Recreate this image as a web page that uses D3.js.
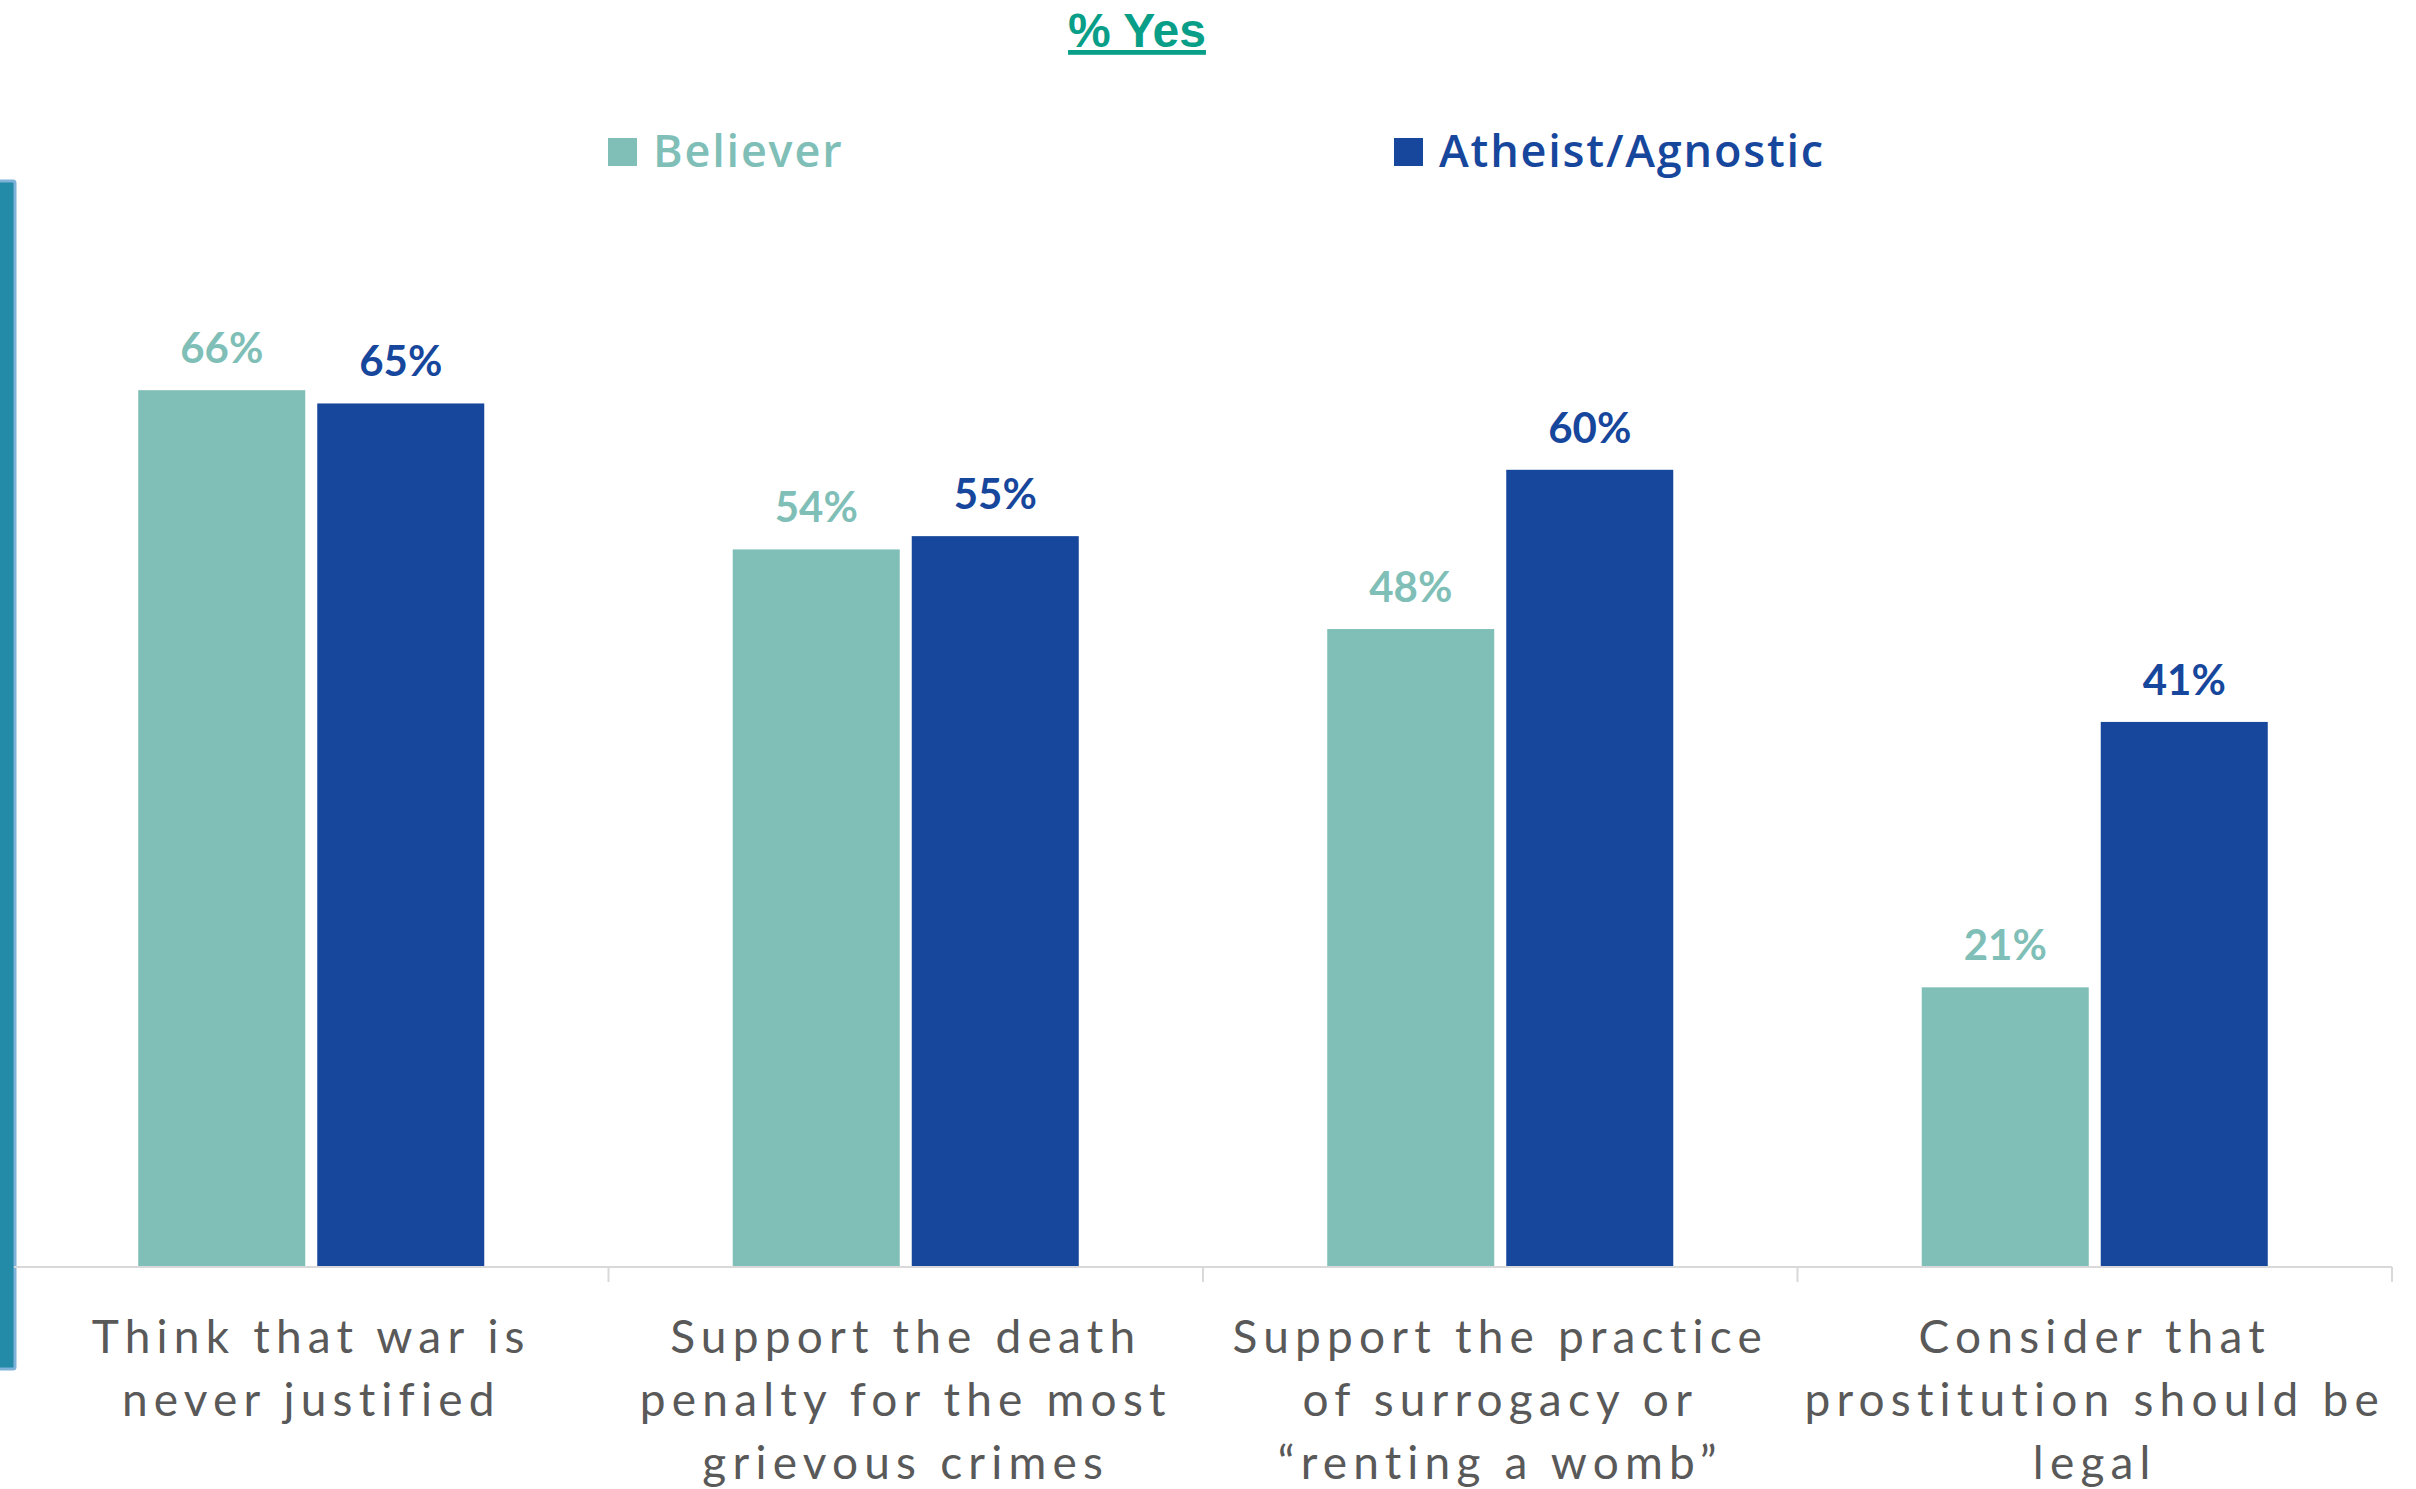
<!DOCTYPE html>
<html>
<head>
<meta charset="utf-8">
<script src="https://cdn.jsdelivr.net/npm/d3@7"></script>
<style>
body{margin:0;background:#fff}
svg{display:block}
.cat{font-family:Lato,"Noto Sans",sans-serif;font-size:46px;fill:#595959;letter-spacing:6.2px}
.val{font-family:Lato,sans-serif;font-weight:700;font-size:42px}
.leg{font-family:"Open Sans",sans-serif;font-weight:600;font-size:45px;letter-spacing:1.8px}
</style>
</head>
<body>
<div id="chart"></div>
<script>
var categories = [
	["Think that war is","never justified"],
	["Support the death","penalty for the most","grievous crimes"],
	["Support the practice","of surrogacy or","\u201crenting a womb\u201d"],
	["Consider that","prostitution should be","legal"]
]
var series = ["Believer","Atheist/Agnostic"]
var believer = [66,54,48,21]
var atheist = [65,55,60,41]

var colors = {
	"Believer":"#80bfb7",
	"Atheist/Agnostic":"#17479c",
	title:"#089e88",
	axis:"#d9d9d9",
	text:"#595959"
}

var w = 2416
var h = 1489
var baseY = 1266
var left = 14
var right = 2392

var svg = d3.select("#chart").append("svg").attr("width",w).attr("height",h)

var x0 = d3.scaleBand()
	.domain(d3.range(categories.length))
	.range([left,right])
	.padding(0)
var x1 = d3.scaleBand()
	.domain(series)
	.range([0,x0.bandwidth()])
	.paddingInner(0.067)
	.paddingOuter(0.694)
var y = d3.scaleLinear().domain([0,100]).range([baseY,baseY-1327])

var rows = believer.map(function(d,i){
	return {i:i,values:[{s:series[0],v:believer[i]},{s:series[1],v:atheist[i]}]}
})

// left decoration strip
svg.append("rect")
	.attr("x",-4).attr("y",181)
	.attr("width",19).attr("height",1188)
	.attr("fill","#238aa7")
	.attr("stroke","#7fb2d8")
	.attr("stroke-width",3)
	.attr("rx",2)

// title
svg.append("text")
	.text("% Yes")
	.attr("x",1137).attr("y",47)
	.attr("text-anchor","middle")
	.attr("fill",colors.title)
	.style("font-family","'Liberation Sans',Arial,sans-serif")
	.style("font-weight",700)
	.style("font-size","48px")
	.style("text-decoration","underline")

// legend
var legX = [608,1394]
var leg = svg.selectAll(".legItem")
	.data(series)
	.enter()
	.append("g")
	.attr("class","legItem")
	.attr("transform",function(d,i){return "translate("+legX[i]+",138)"})
leg.append("rect")
	.attr("width",29).attr("height",28)
	.attr("fill",function(d){return colors[d]})
leg.append("text")
	.attr("class","leg")
	.attr("x",45).attr("y",29)
	.attr("fill",function(d){return colors[d]})
	.text(function(d){return d})

// bars
var groups = svg.selectAll(".group")
	.data(rows)
	.enter()
	.append("g")
	.attr("class","group")
	.attr("transform",function(d){return "translate("+x0(d.i)+",0)"})

groups.selectAll(".bar")
	.data(function(d){return d.values})
	.enter()
	.append("rect")
	.attr("class","bar")
	.attr("x",function(d){return x1(d.s)})
	.attr("width",x1.bandwidth())
	.attr("y",function(d){return y(d.v)})
	.attr("height",function(d){return baseY-y(d.v)})
	.attr("fill",function(d){return colors[d.s]})

groups.selectAll(".val")
	.data(function(d){return d.values})
	.enter()
	.append("text")
	.attr("class","val")
	.attr("x",function(d){return x1(d.s)+x1.bandwidth()/2})
	.attr("y",function(d){return y(d.v)-27})
	.attr("text-anchor","middle")
	.attr("fill",function(d){return colors[d.s]})
	.text(function(d){return d.v+"%"})

// axis
svg.append("line")
	.attr("x1",left).attr("x2",right)
	.attr("y1",baseY+1).attr("y2",baseY+1)
	.attr("stroke",colors.axis)
	.attr("stroke-width",2)

var tickX = d3.range(1,categories.length+1).map(function(i){return left+x0.step()*i})
svg.selectAll(".tick")
	.data(tickX)
	.enter()
	.append("line")
	.attr("class","tick")
	.attr("x1",function(d){return d}).attr("x2",function(d){return d})
	.attr("y1",baseY+1).attr("y2",baseY+16)
	.attr("stroke",colors.axis)
	.attr("stroke-width",2)

// category labels
var cat = svg.selectAll(".cat")
	.data(categories)
	.enter()
	.append("text")
	.attr("class","cat")
	.attr("text-anchor","middle")
	.attr("transform",function(d,i){return "translate("+(x0(i)+x0.bandwidth()/2)+",1353)"})
cat.selectAll("tspan")
	.data(function(d){return d})
	.enter()
	.append("tspan")
	.attr("x",0)
	.attr("y",function(d,i){return i*63})
	.text(function(d){return d})
</script>
</body>
</html>
